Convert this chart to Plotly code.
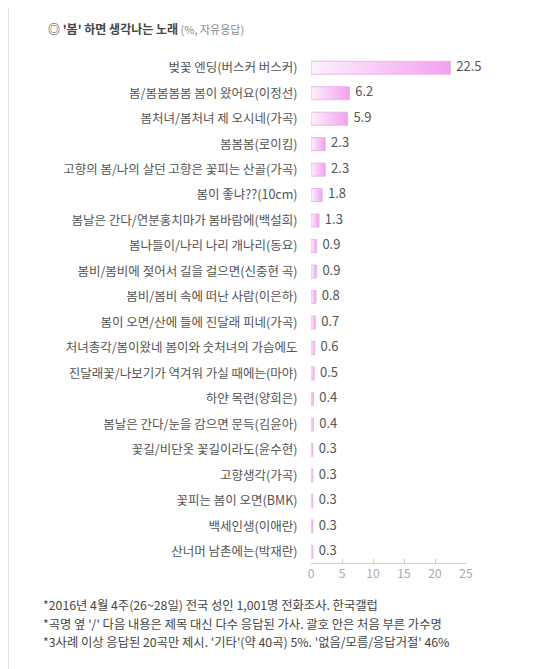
import plotly.graph_objects as go

songs = [
    "벚꽃 엔딩(버스커 버스커)",
    "봄/봄봄봄봄 봄이 왔어요(이정선)",
    "봄처녀/봄처녀 제 오시네(가곡)",
    "봄봄봄(로이킴)",
    "고향의 봄/나의 살던 고향은 꽃피는 산골(가곡)",
    "봄이 좋냐??(10cm)",
    "봄날은 간다/연분홍치마가 봄바람에(백설희)",
    "봄나들이/나리 나리 개나리(동요)",
    "봄비/봄비에 젖어서 길을 걸으면(신중현 곡)",
    "봄비/봄비 속에 떠난 사람(이은하)",
    "봄이 오면/산에 들에 진달래 피네(가곡)",
    "처녀총각/봄이왔네 봄이와 숫처녀의 가슴에도",
    "진달래꽃/나보기가 역겨워 가실 때에는(마야)",
    "하얀 목련(양희은)",
    "봄날은 간다/눈을 감으면 문득(김윤아)",
    "꽃길/비단옷 꽃길이라도(윤수현)",
    "고향생각(가곡)",
    "꽃피는 봄이 오면(BMK)",
    "백세인생(이애란)",
    "산너머 남촌에는(박재란)",
]
shares = [22.5, 6.2, 5.9, 2.3, 2.3, 1.8, 1.3, 0.9, 0.9, 0.8,
          0.7, 0.6, 0.5, 0.4, 0.4, 0.3, 0.3, 0.3, 0.3, 0.3]
x_ticks = [0, 5, 10, 15, 20, 25]

title_main = "◎ '봄' 하면 생각나는 노래"
title_sub = " (%, 자유응답)"
notes = [
    "*2016년 4월 4주(26~28일) 전국 성인 1,001명 전화조사. 한국갤럽",
    "*곡명 옆 '/' 다음 내용은 제목 대신 다수 응답된 가사. 괄호 안은 처음 부른 가수명",
    "*3사례 이상 응답된 20곡만 제시. '기타'(약 40곡) 5%. '없음/모름/응답거절' 46%",
]

# page has an 8px body margin; figure is sized to fill the rest of the window
OFF = 8
W, H = 550 - OFF, 669 - OFF
ML, MR, MT, MB = 303, 84, 47, 106
FONT = "Noto Sans CJK KR"
half = 0.255

idx = list(range(len(songs)))
fig = go.Figure()
for i, v in zip(idx, shares):
    fig.add_trace(go.Scatter(
        x=[0, v, v, 0, 0],
        y=[i - half, i - half, i + half, i + half, i - half],
        mode="lines", fill="toself",
        fillgradient=dict(type="horizontal",
                          colorscale=[[0, "#fdf1fc"], [1, "#f3a0ef"]]),
        line=dict(color="#ebb6ea", width=1),
        hoverinfo="skip", showlegend=False,
    ))

fig.add_trace(go.Scatter(
    x=shares, y=idx, mode="text",
    text=["  " + f"{v:.1f}" for v in shares],
    textposition="middle right", cliponaxis=False,
    textfont=dict(family=FONT, size=13, color="#555555"),
    hoverinfo="skip", showlegend=False,
))

pw = W - ML - MR
ph = H - MT - MB


def px(xp):
    return (xp - OFF - ML) / pw


def py(yp):
    return 1 - (yp - OFF - MT) / ph


annotations = [
    dict(x=px(46), y=py(28), xref="paper", yref="paper", xanchor="left",
         yanchor="middle", showarrow=False,
         text=f"<b>{title_main}</b><span style='color:#888888;font-size:11px'>{title_sub}</span>",
         font=dict(family=FONT, size=12, color="#444444")),
]
for k, t in enumerate(notes):
    annotations.append(dict(
        x=px(41), y=py(605 + 18.5 * k), xref="paper", yref="paper",
        xanchor="left", yanchor="middle", showarrow=False, text=t,
        font=dict(family=FONT, size=12.3, color="#444444")))

fig.update_layout(
    width=W, height=H,
    margin=dict(l=ML, r=MR, t=MT, b=MB),
    paper_bgcolor="white", plot_bgcolor="white",
    font=dict(family=FONT, color="#555555"),
    annotations=annotations,
    shapes=[dict(type="line", xref="paper", yref="paper",
                 x0=px(OFF + 0.5), x1=px(OFF + 0.5), y0=py(OFF), y1=py(669),
                 line=dict(color="#e0e0e0", width=1))],
    xaxis=dict(range=[0, 25], tickvals=x_ticks, showgrid=False, zeroline=False,
               showline=True, linecolor="#cccccc", ticks="inside", ticklen=4,
               tickcolor="#cccccc", tickfont=dict(size=12, color="#aaaaaa"),
               fixedrange=True),
    yaxis=dict(range=[19.44, -0.5], tickvals=idx, ticktext=songs,
               showgrid=False, zeroline=False, showline=False,
               ticks="outside", ticklen=10, tickcolor="rgba(0,0,0,0)",
               tickfont=dict(size=12.5, color="#555555"), fixedrange=True),
)

fig.write_html("out.html")
